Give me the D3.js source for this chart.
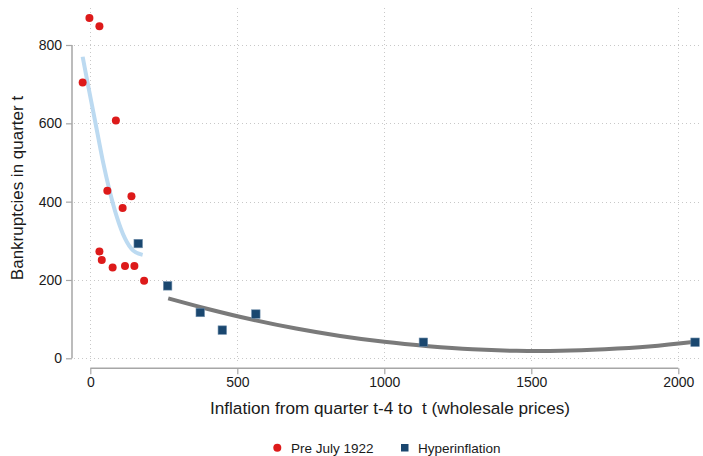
<!DOCTYPE html>
<html>
<head>
<meta charset="utf-8">
<script src="https://cdn.jsdelivr.net/npm/d3@7/dist/d3.min.js"></script>
<style>
  html, body { margin: 0; padding: 0; background: #fff; }
  svg { display: block; font-family: "Liberation Sans", Arial, sans-serif; }
</style>
</head>
<body>
<svg id="chart" width="703" height="456"></svg>
<script>
// Inflation (x) and bankruptcies (y), quarters before July 1922
const preInflation = [-3, 31, -26, 87, 58, 140, 110, 31, 39, 76, 118, 150, 183];
const preBankrupt  = [869, 848, 704, 607, 428, 414, 384, 273, 251, 232, 236, 236, 198];

// Hyperinflation quarters
const hypInflation = [163, 263, 374, 449, 563, 1133, 2057];
const hypBankrupt  = [293, 185, 117, 72, 113, 41, 41];

// Fitted curve, pre July 1922 sample
const fitPreX = [-26, -7, 10, 27, 44, 65, 90, 118, 146, 178];
const fitPreY = [770, 695, 630, 564, 499, 430, 362, 306, 275, 264];

// Fitted curve, hyperinflation sample
const fitHypX = [265, 400, 550, 700, 850, 1000, 1150, 1300, 1450, 1600, 1750, 1900, 2057];
const fitHypY = [153, 126, 99, 76, 57, 42, 31, 23, 19, 19, 23, 30, 42];

const xTicks = [0, 500, 1000, 1500, 2000];
const yTicks = [0, 200, 400, 600, 800];

const legendLabels = ["Pre July 1922", "Hyperinflation"];

const svg = d3.select("#chart");

const x = d3.scaleLinear().domain([0, 2000]).range([90.3, 678.3]);
const y = d3.scaleLinear().domain([0, 800]).range([358.3, 45]);

const plotLeft = 72, plotRight = 701, plotTop = 8, plotBottom = 362;

const red = "#dd1a1a", navy = "#1a476f", ltblue = "#bcdaf1", gray = "#7a7a7a";

// Grid
const grid = svg.append("g").attr("stroke", "#c8c8c8").attr("stroke-width", 1)
  .attr("stroke-dasharray", "1,3");
grid.selectAll("line.h").data(yTicks).join("line")
  .attr("x1", plotLeft + 2).attr("x2", plotRight)
  .attr("y1", d => Math.round(y(d)) + 0.5).attr("y2", d => Math.round(y(d)) + 0.5);
grid.selectAll("line.v").data(xTicks).join("line")
  .attr("y1", plotTop).attr("y2", plotBottom)
  .attr("x1", d => Math.round(x(d)) + 0.5).attr("x2", d => Math.round(x(d)) + 0.5);

// Fitted lines
const fitLine = d3.line().x(d => x(d[0])).y(d => y(d[1])).curve(d3.curveMonotoneX);
svg.append("path")
  .datum(d3.zip(fitPreX, fitPreY))
  .attr("d", fitLine)
  .attr("fill", "none").attr("stroke", ltblue).attr("stroke-width", 4);
svg.append("path")
  .datum(d3.zip(fitHypX, fitHypY))
  .attr("d", d3.line().x(d => x(d[0])).y(d => y(d[1])).curve(d3.curveCatmullRom))
  .attr("fill", "none").attr("stroke", gray).attr("stroke-width", 4);

// Points
svg.append("g").selectAll("circle").data(d3.zip(preInflation, preBankrupt)).join("circle")
  .attr("cx", d => x(d[0])).attr("cy", d => y(d[1])).attr("r", 4)
  .attr("fill", red);
const sq = 8.5;
svg.append("g").selectAll("rect").data(d3.zip(hypInflation, hypBankrupt)).join("rect")
  .attr("x", d => x(d[0]) - sq / 2).attr("y", d => y(d[1]) - sq / 2)
  .attr("width", sq).attr("height", sq)
  .attr("fill", navy).attr("stroke", "#6f8eab").attr("stroke-width", 0.6);

// Y axis
const yAxis = svg.append("g").attr("transform", `translate(${plotLeft},0)`)
  .call(d3.axisLeft(y).tickValues(yTicks).tickSize(6).tickPadding(4).tickFormat(d3.format("d")));
yAxis.select(".domain").attr("stroke", "#a6a6a6").attr("stroke-width", 1.5)
  .attr("d", `M0,${y(0)}V${y(800)}`);
yAxis.selectAll(".tick line").attr("stroke", "#a6a6a6").attr("stroke-width", 1.2);
yAxis.selectAll(".tick text").attr("font-size", 14).attr("fill", "#1a1a1a")
  .attr("font-family", "Liberation Sans, Arial, sans-serif");

// X axis
const xAxis = svg.append("g").attr("transform", `translate(0,368.3)`)
  .call(d3.axisBottom(x).tickValues(xTicks).tickSize(6).tickPadding(3).tickFormat(d3.format("d")));
xAxis.select(".domain").attr("stroke", "#a6a6a6").attr("stroke-width", 1.5)
  .attr("d", `M${x(0)},0H${x(2000)}`);
xAxis.selectAll(".tick line").attr("stroke", "#a6a6a6").attr("stroke-width", 1.2);
xAxis.selectAll(".tick text").attr("font-size", 14).attr("fill", "#1a1a1a")
  .attr("font-family", "Liberation Sans, Arial, sans-serif");

// Axis titles
svg.append("text")
  .attr("transform", "translate(23,188) rotate(-90)")
  .attr("text-anchor", "middle").attr("font-size", 17).attr("fill", "#1a1a1a")
  .text("Bankruptcies in quarter t");
svg.append("text")
  .attr("x", 390).attr("y", 414)
  .attr("text-anchor", "middle").attr("font-size", 17.2).attr("fill", "#1a1a1a")
  .attr("xml:space", "preserve")
  .text("Inflation from quarter t-4 to  t (wholesale prices)");

// Legend
const lg = svg.append("g").attr("font-size", 13.5).attr("fill", "#1a1a1a");
lg.append("circle").attr("cx", 277.3).attr("cy", 447.7).attr("r", 4).attr("fill", red);
lg.append("text").attr("x", 291).attr("y", 452.5).text(legendLabels[0]);
lg.append("rect").attr("x", 401).attr("y", 444).attr("width", 7.5).attr("height", 7.5).attr("fill", navy);
lg.append("text").attr("x", 418).attr("y", 452.5).text(legendLabels[1]);
</script>
</body>
</html>
